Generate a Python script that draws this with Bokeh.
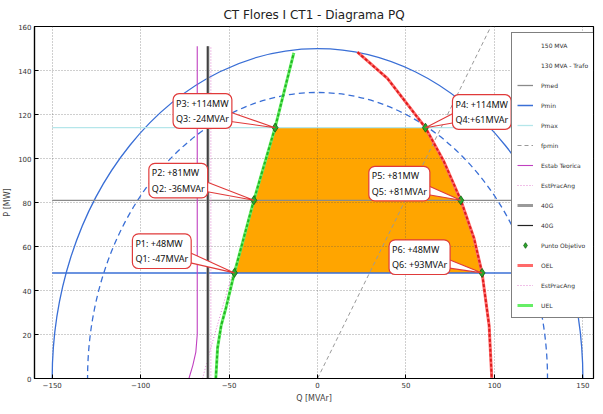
import numpy as np
from bokeh.plotting import figure
from bokeh.models import Range1d, FixedTicker, Label, Legend, LegendItem
from bokeh.embed import file_html
from bokeh.resources import INLINE

# ---------------- data ----------------
TITLE = "CT Flores I CT1 - Diagrama PQ"
x_ticks = [-150, -100, -50, 0, 50, 100, 150]
y_ticks = [0, 20, 40, 60, 80, 100, 120, 140, 160]

s_rated = 150      # MVA  (circle)
s_trafo = 130      # MVA  (dashed circle)

p_min = 48
p_med = 81
p_max = 114
level_q = [-150, 150]

uel_q = [-57.5, -56.5, -54.5, -51.8, -47, -36, -24, -13.4]
uel_p = [0, 14, 24, 32, 48, 81, 114, 148]

oel_q = [22.6, 39.5, 61, 71.5, 81, 88.5, 93, 97, 98.5]
oel_p = [148.3, 136.4, 114, 98.5, 81, 63.6, 48, 24, 0]

fp_q = [0, 98]
fp_p = [0, 160]

teo_q = [-72.7, -70.5, -68.8, -68, -68]
teo_p = [0, 6, 12, 20, 151]

prac1_q = [-65, -61, -56, -51, -47]
prac1_p = [0, 12, 26, 40, 50]
prac2_q = [-60.3, -60.3]
prac2_p = [0, 151]

g40_q = [-62, -62]
g40_p = [0, 151]

pt_q = [-47, -36, -24, 61, 81, 93]
pt_p = [48, 81, 114, 114, 81, 48]
pt_text = ["P1: +48MW\nQ1: -47MVAr", "P2: +81MW\nQ2: -36MVAr", "P3: +114MW\nQ3: -24MVAr",
           "P4: +114MW\nQ4:+61MVAr", "P5: +81MW\nQ5: +81MVAr", "P6: +48MW\nQ6: +93MVAr"]

# ---------------- layout ----------------
XR = (-160, 156)
YR = (0, 160)
FW, FH = 559, 352
sx = FW / (XR[1] - XR[0])
sy = FH / (YR[1] - YR[0])

p = figure(frame_width=FW, frame_height=FH, x_range=Range1d(*XR), y_range=Range1d(*YR),
           output_backend="svg", toolbar_location=None, title=TITLE,
           min_border_left=25, min_border_right=6, min_border_top=4, min_border_bottom=4)
p.background_fill_color = "white"
p.border_fill_color = "white"
p.outline_line_color = "black"
p.outline_line_width = 1.2

p.title.text_font = "DejaVu Sans"
p.title.text_font_size = "12px"
p.title.text_font_style = "normal"
p.title.align = "center"
p.title.text_color = "#222222"

for ax in (p.xaxis[0], p.yaxis[0]):
    ax.major_label_text_font = "DejaVu Sans"
    ax.major_label_text_font_size = "7px"
    ax.major_label_text_color = "#333333"
    ax.axis_label_text_font = "DejaVu Sans"
    ax.axis_label_text_font_size = "8px"
    ax.axis_label_text_font_style = "normal"
    ax.major_tick_in = 4
    ax.major_tick_out = 0
    ax.minor_tick_line_color = None
    ax.axis_line_color = "black"
    ax.axis_line_width = 1.2
    ax.major_label_standoff = 3
    ax.axis_label_standoff = 3
p.xaxis[0].ticker = FixedTicker(ticks=x_ticks)
p.yaxis[0].ticker = FixedTicker(ticks=y_ticks)
p.xaxis[0].axis_label = "Q [MVAr]"
p.yaxis[0].axis_label = "P [MW]"

p.xgrid.ticker = FixedTicker(ticks=x_ticks)
p.ygrid.ticker = FixedTicker(ticks=y_ticks)
for g in (p.xgrid[0], p.ygrid[0]):
    g.grid_line_color = "#555555"
    g.grid_line_dash = "1 2"
    g.grid_line_alpha = 0.7
    g.grid_line_width = 0.8

# ---------------- orange operating region ----------------
reg_q = [q for q, pp in zip(uel_q, uel_p) if p_min <= pp <= p_max]
reg_p = [pp for pp in uel_p if p_min <= pp <= p_max]
reg_q += [q for q, pp in zip(oel_q, oel_p) if p_min <= pp <= p_max]
reg_p += [pp for pp in oel_p if p_min <= pp <= p_max]
p.patch(reg_q, reg_p, fill_color="#FFA500", line_color=None, level="image")

# ---------------- capability circles ----------------
p.ellipse(x=0, y=0, width=2 * s_rated, height=2 * s_rated, fill_color=None,
          line_color="#3a6fd6", line_width=1.3)
p.ellipse(x=0, y=0, width=2 * s_trafo, height=2 * s_trafo, fill_color=None,
          line_color="#3a6fd6", line_width=1.3, line_dash="6 4")
leg_150 = p.line([], [], line_color="#3a6fd6", line_width=2.5)
leg_130 = p.line([], [], line_color="#9ab4ee", line_width=1.3, line_dash="4 4")

# ---------------- power levels ----------------
r_pmax = p.line(level_q, [p_max, p_max], line_color="#b5e6ea", line_width=1.3)
r_pmed = p.line(level_q, [p_med, p_med], line_color="#8a8a8a", line_width=1.3)
r_pmin = p.line(level_q, [p_min, p_min], line_color="#3a6fd6", line_width=1.5)

r_fp = p.line(fp_q, fp_p, line_color="#999999", line_width=1, line_dash="4 3")

r_teo = p.line(teo_q, teo_p, line_color="#c040c0", line_width=1.1)
r_prac1 = p.line(prac1_q, prac1_p, line_color="#e080d0", line_width=1, line_dash="1 2")
r_prac2 = p.line(prac2_q, prac2_p, line_color="#e080d0", line_width=1, line_dash="1 2")

r_40a = p.line(g40_q, g40_p, line_color="#9a9a9a", line_width=3)
r_40b = p.line(g40_q, g40_p, line_color="#222222", line_width=1.2)

# ---------------- UEL / OEL ----------------
r_uel = p.line(uel_q, uel_p, line_color="#66ee66", line_width=3)
p.line(uel_q, uel_p, line_color="#22b822", line_width=2, line_dash="3 2")
r_oel = p.line(oel_q, oel_p, line_color="#ff6a6a", line_width=3)
p.line(oel_q, oel_p, line_color="#dd1c1c", line_width=2, line_dash="3 2")

r_pts = p.scatter(pt_q, pt_p, marker="diamond", size=9, fill_color="#2aa82a",
                  line_color="#106010", line_width=0.8)

# ---------------- callouts ----------------
box_off = [(-102, 39), (-105, 37), (-102, 34), (27, 33), (-92, 34), (-93, 33)]
BW, BH = 58, 28
wq, wp = [], []
for (q, pp), (dx, dy) in zip(zip(pt_q, pt_p), box_off):
    if dx < 0:
        b1 = (dx + BW - 13, dy - BH + 2)
        b2 = (dx + BW - 2, dy - BH + 10)
    else:
        b1 = (dx + 2, dy - BH + 10)
        b2 = (dx + 13, dy - BH + 2)
    wq.append([q + b1[0] / sx, q + b2[0] / sx, q])
    wp.append([pp + b1[1] / sy, pp + b2[1] / sy, pp])
p.patches(wq, wp, fill_color="white", line_color="#e03a3a", line_width=1.1, level="annotation")

for q, pp, (dx, dy), txt in zip(pt_q, pt_p, box_off, pt_text):
    p.add_layout(Label(x=q, y=pp, x_offset=dx, y_offset=dy, text=txt, anchor="top_left",
                       text_font="Noto Sans", text_font_size="9px", text_color="#111111",
                       text_line_height=1.2, padding=3, border_radius=6,
                       background_fill_color="white", border_line_color="#e03a3a",
                       border_line_width=1.2))

# ---------------- legend ----------------
items = [
    LegendItem(label="150 MVA", renderers=[leg_150]),
    LegendItem(label="130 MVA - Trafo", renderers=[leg_130]),
    LegendItem(label="Pmed", renderers=[r_pmed]),
    LegendItem(label="Pmin", renderers=[r_pmin]),
    LegendItem(label="Pmax", renderers=[r_pmax]),
    LegendItem(label="fpmin", renderers=[r_fp]),
    LegendItem(label="Estab Teorica", renderers=[r_teo]),
    LegendItem(label="EstPracAng", renderers=[r_prac1]),
    LegendItem(label="40G", renderers=[r_40a]),
    LegendItem(label="40G", renderers=[r_40b]),
    LegendItem(label="Punto Objetivo", renderers=[r_pts]),
    LegendItem(label="OEL", renderers=[r_oel]),
    LegendItem(label="EstPracAng", renderers=[r_prac2]),
    LegendItem(label="UEL", renderers=[r_uel]),
]
leg = Legend(items=items, location=(477, 60), label_text_font="DejaVu Sans",
             label_text_font_size="6px", label_text_color="#333333",
             glyph_width=16, glyph_height=14, label_height=14, label_standoff=8,
             spacing=6, padding=5, border_line_color="black", border_line_width=1,
             background_fill_color="white", background_fill_alpha=1.0)
p.add_layout(leg)

open("out.html", "w").write(file_html(p, INLINE))
